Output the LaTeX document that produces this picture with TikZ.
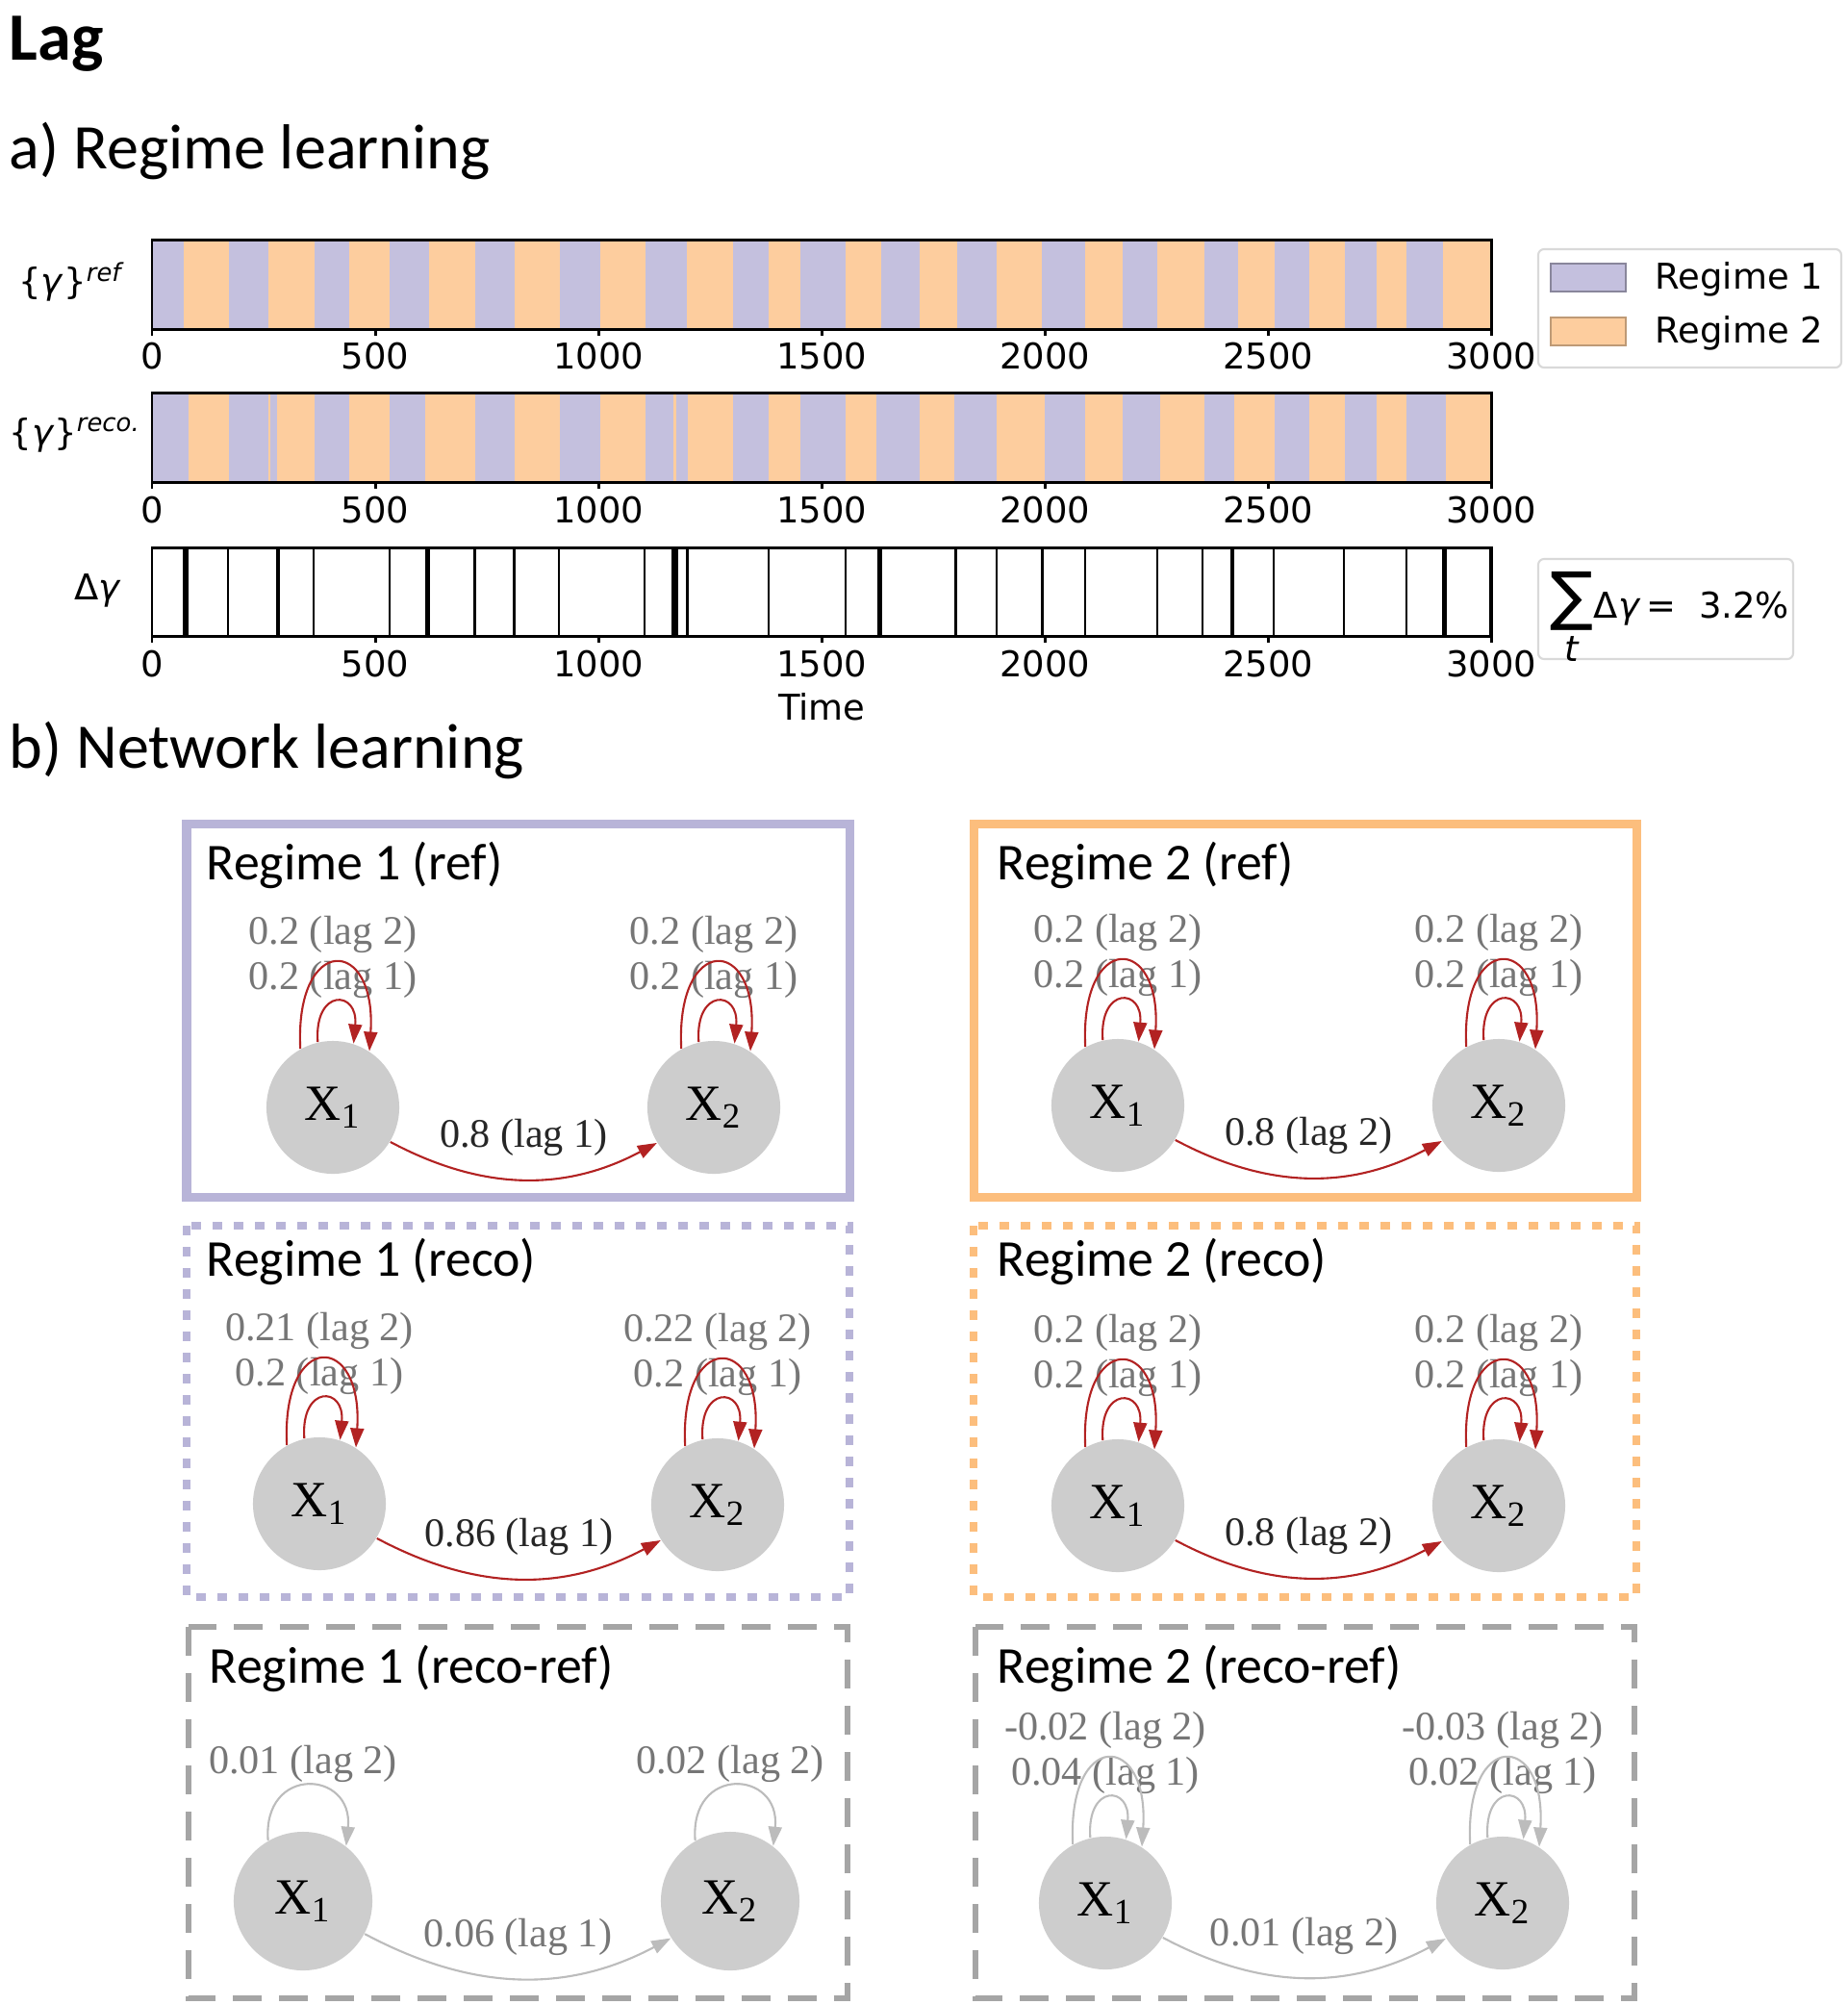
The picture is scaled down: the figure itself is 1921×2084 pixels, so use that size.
\documentclass[tikz,border=0pt]{standalone}
\usepackage{amsmath}
\usepackage{fontspec}
\setmainfont{Carlito}
\newfontfamily\plotfont{DejaVu Sans}
\newfontfamily\graphfont{Liberation Serif}
\usetikzlibrary{positioning,arrows.meta}
\definecolor{regone}{RGB}{196,192,222}
\definecolor{regtwo}{RGB}{253,205,158}
\definecolor{boxone}{RGB}{184,180,216}
\definecolor{boxtwo}{RGB}{252,190,125}
\definecolor{nodegray}{RGB}{205,205,205}
\definecolor{lblgray}{RGB}{118,118,118}
\definecolor{edgered}{RGB}{178,34,34}
\definecolor{edgegray}{RGB}{188,188,188}
\definecolor{dashgray}{RGB}{165,165,165}
\tikzset{
	heading/.style={anchor=base west,inner sep=0pt,font=\fontsize{18.8}{22}\selectfont},
	ptitle/.style={anchor=base west,inner sep=0pt,font=\fontsize{15.3}{17}\selectfont},
	plotlbl/.style={inner sep=0pt,font=\plotfont\fontsize{10.5}{12}\selectfont},
	frame/.style={draw=black,line width=0.8pt},
	var/.style={circle,fill=nodegray,minimum size=1.38cm,inner sep=0pt,font=\graphfont\fontsize{15}{15}\selectfont},
	wlbl/.style={inner sep=0pt,text=lblgray,font=\graphfont\fontsize{12}{12}\selectfont},
	elbl/.style={inner sep=0pt,text=black!85,font=\graphfont\fontsize{12}{12}\selectfont},
	redge/.style={draw=edgered,line width=0.6pt,-{Triangle[length=0.2cm,width=0.14cm]}},
	gedge/.style={draw=edgegray,line width=0.6pt,-{Triangle[length=0.2cm,width=0.14cm]}},
	solidone/.style={draw=boxone,line width=0.09cm},
	solidtwo/.style={draw=boxtwo,line width=0.09cm},
	dotone/.style={draw=boxone,line width=0.085cm,dash pattern=on 0.1cm off 0.12cm},
	dottwo/.style={draw=boxtwo,line width=0.085cm,dash pattern=on 0.1cm off 0.12cm},
	dashbox/.style={draw=dashgray,line width=0.06cm,dash pattern=on 0.3cm off 0.18cm},
	legbox/.style={draw=black!15,fill=white,line width=0.6pt,rounded corners=0.06cm}
}
\begin{document}
\begin{tikzpicture}[x=0.01cm,y=0.01cm]
\useasboundingbox (0,0) rectangle (1921,-2084);
\node[heading,font=\bfseries\fontsize{20}{22}\selectfont] (lag) at (9,-62) {Lag};
\node[heading] (parta) at (9,-175) {a) Regime learning};
\node[heading] (partb) at (9,-798) {b) Network learning};

\node[plotlbl] (gref) at (75,-293) {\{\textit{γ}\}\textsuperscript{\textit{ref}}};
\node[plotlbl] (greco) at (78,-452) {\{\textit{γ}\}\textsuperscript{\textit{reco.}}};
\node[plotlbl] (dgam) at (102,-614) {Δ\textit{γ}};

\begin{scope}[xshift=1.58cm,yshift=-2.49cm,x=0.0046433cm]
	\fill[regtwo] (0,0) rectangle (3000,-93);
	\foreach \a/\b in {0/71,173/261,364/441,533/621,724/813,914/1003,1106/1197,1302/1381,1451/1554,1633/1720,1804/1891,1993/2090,2174/2252,2356/2433,2514/2591,2672/2742,2810/2891}
		\fill[regone] (\a,0) rectangle (\b,-93);
	\draw[frame] (0,0) rectangle (3000,-93);
	\foreach \tv in {0,500,...,3000} {
		\draw[frame] (\tv,-93) -- (\tv,-100);
		\node[plotlbl] (tka\tv) at (\tv,-121) {\tv};
	}
\end{scope}

\begin{scope}[xshift=1.58cm,yshift=-4.08cm,x=0.0046433cm]
	\fill[regtwo] (0,0) rectangle (3000,-93);
	\foreach \a/\b in {0/82,173/260,264/280,364/441,533/612,724/813,914/1003,1106/1168,1175/1200,1302/1381,1451/1554,1622/1720,1796/1891,2000/2090,2174/2258,2356/2423,2514/2591,2672/2742,2810/2897}
		\fill[regone] (\a,0) rectangle (\b,-93);
	\draw[frame] (0,0) rectangle (3000,-93);
	\foreach \tv in {0,500,...,3000} {
		\draw[frame] (\tv,-93) -- (\tv,-100);
		\node[plotlbl] (tkb\tv) at (\tv,-122) {\tv};
	}
\end{scope}

\begin{scope}[xshift=1.58cm,yshift=-5.69cm,x=0.0046433cm]
	\foreach \tv/\w in {75/1.6pt,170/0.6pt,282/1.4pt,361/0.6pt,532/0.6pt,617/1.2pt,722/0.9pt,811/0.6pt,912/0.6pt,1103/0.6pt,1169/1.4pt,1175/1pt,1199/0.9pt,1380/0.6pt,1553/0.6pt,1629/1.4pt,1800/1pt,1891/0.6pt,1994/1.1pt,2090/0.8pt,2252/0.6pt,2353/0.6pt,2419/1.1pt,2513/0.6pt,2670/0.6pt,2810/0.6pt,2895/1.3pt,2996/0.6pt}
		\draw[line width=\w] (\tv,0) -- (\tv,-92);
	\draw[frame] (0,0) rectangle (3000,-92);
	\foreach \tv in {0,500,...,3000} {
		\draw[frame] (\tv,-92) -- (\tv,-99);
		\node[plotlbl] (tkc\tv) at (\tv,-121) {\tv};
	}
	\node[plotlbl] (time) at (1500,-165) {Time};
\end{scope}

\draw[legbox] (1599,-259) rectangle (1914,-382);
\draw[fill=regone,draw=regone!70!black,line width=0.5pt] (1612,-274) rectangle (1690,-303);
\draw[fill=regtwo,draw=regtwo!75!black,line width=0.5pt] (1612,-330) rectangle (1690,-359);
\node[plotlbl,anchor=west] (leg1) at (1720,-290) {Regime 1};
\node[plotlbl,anchor=west] (leg2) at (1720,-346) {Regime 2};

\draw[legbox] (1599,-581) rectangle (1864,-685);
\node[plotlbl,anchor=base west] (sumlbl) at (1611,-642) {$\mathop{\hbox{\fontsize{19}{19}\selectfont ∑}}\limits_{\hbox{\itshape t}}$Δ\textit{γ}\,=~~3.2\%};

\draw[solidone] (194,-856) rectangle (883,-1244);
\draw[solidtwo] (1012,-856) rectangle (1701,-1244);
\draw[dotone] (194,-1274) rectangle (883,-1660);
\draw[dottwo] (1012,-1274) rectangle (1701,-1660);
\draw[dashbox] (196,-1691) rectangle (881,-2077);
\draw[dashbox] (1014,-1691) rectangle (1699,-2077);

\node[ptitle] (t1ref) at (214,-914) {Regime 1 (ref)};
\node[ptitle] (t2ref) at (1036,-914) {Regime 2 (ref)};
\node[ptitle] (t1rec) at (214,-1326) {Regime 1 (reco)};
\node[ptitle] (t2rec) at (1036,-1326) {Regime 2 (reco)};
\node[ptitle] (t1dif) at (217,-1749) {Regime 1 (reco-ref)};
\node[ptitle] (t2dif) at (1036,-1749) {Regime 2 (reco-ref)};

\node[var] (r1ref1) at (346,-1151) {X\textsubscript{1}};
\node[var] (r1ref2) at (742,-1151) {X\textsubscript{2}};
\node[var] (r2ref1) at (1162,-1149) {X\textsubscript{1}};
\node[var] (r2ref2) at (1558,-1149) {X\textsubscript{2}};
\node[var] (r1rec1) at (332,-1563) {X\textsubscript{1}};
\node[var] (r1rec2) at (746,-1564) {X\textsubscript{2}};
\node[var] (r2rec1) at (1162,-1565) {X\textsubscript{1}};
\node[var] (r2rec2) at (1558,-1565) {X\textsubscript{2}};
\node[var,minimum size=1.44cm] (r1dif1) at (315,-1976) {X\textsubscript{1}};
\node[var,minimum size=1.44cm] (r1dif2) at (759,-1976) {X\textsubscript{2}};
\node[var] (r2dif1) at (1149,-1978) {X\textsubscript{1}};
\node[var] (r2dif2) at (1562,-1978) {X\textsubscript{2}};

\node[wlbl,above=0.9cm of r1ref1] (r1ref1b) {0.2 (lag 2)};
\node[wlbl,above=0.43cm of r1ref1] (r1ref1a) {0.2 (lag 1)};
\node[wlbl,above=0.9cm of r1ref2] (r1ref2b) {0.2 (lag 2)};
\node[wlbl,above=0.43cm of r1ref2] (r1ref2a) {0.2 (lag 1)};
\node[wlbl,above=0.9cm of r2ref1] (r2ref1b) {0.2 (lag 2)};
\node[wlbl,above=0.43cm of r2ref1] (r2ref1a) {0.2 (lag 1)};
\node[wlbl,above=0.9cm of r2ref2] (r2ref2b) {0.2 (lag 2)};
\node[wlbl,above=0.43cm of r2ref2] (r2ref2a) {0.2 (lag 1)};
\node[wlbl,above=0.9cm of r1rec1] (r1rec1b) {0.21 (lag 2)};
\node[wlbl,above=0.43cm of r1rec1] (r1rec1a) {0.2 (lag 1)};
\node[wlbl,above=0.9cm of r1rec2] (r1rec2b) {0.22 (lag 2)};
\node[wlbl,above=0.43cm of r1rec2] (r1rec2a) {0.2 (lag 1)};
\node[wlbl,above=0.9cm of r2rec1] (r2rec1b) {0.2 (lag 2)};
\node[wlbl,above=0.43cm of r2rec1] (r2rec1a) {0.2 (lag 1)};
\node[wlbl,above=0.9cm of r2rec2] (r2rec2b) {0.2 (lag 2)};
\node[wlbl,above=0.43cm of r2rec2] (r2rec2a) {0.2 (lag 1)};
\node[wlbl,above=0.5cm of r1dif1] (r1dif1b) {0.01 (lag 2)};
\node[wlbl,above=0.5cm of r1dif2] (r1dif2b) {0.02 (lag 2)};
\node[wlbl,above=0.9cm of r2dif1] (r2dif1b) {-0.02 (lag 2)};
\node[wlbl,above=0.43cm of r2dif1] (r2dif1a) {0.04 (lag 1)};
\node[wlbl,above=0.9cm of r2dif2] (r2dif2b) {-0.03 (lag 2)};
\node[wlbl,above=0.43cm of r2dif2] (r2dif2a) {0.02 (lag 1)};

\foreach \n in {r1ref1,r1ref2,r2ref1,r2ref2,r1rec1,r1rec2,r2rec1,r2rec2} {
	\draw[redge] (\n.119) .. controls +(-6,120) and +(8,120) .. (\n.57);
	\draw[redge] (\n.103) .. controls +(-4,56) and +(5,56) .. (\n.72);
}
\foreach \n in {r2dif1,r2dif2} {
	\draw[gedge] (\n.119) .. controls +(-6,120) and +(8,120) .. (\n.57);
	\draw[gedge] (\n.103) .. controls +(-4,56) and +(5,56) .. (\n.72);
}
\foreach \n in {r1dif1,r1dif2}
	\draw[gedge] (\n.120) .. controls +(-6,79) and +(8,79) .. (\n.52);

\draw[redge] (r1ref1.-31) to[out=-28,in=208] node[elbl,midway,yshift=0.43cm] (r1refe) {0.8 (lag 1)} (r1ref2.212);
\draw[redge] (r2ref1.-31) to[out=-28,in=208] node[elbl,midway,yshift=0.43cm] (r2refe) {0.8 (lag 2)} (r2ref2.212);
\draw[redge] (r1rec1.-31) to[out=-28,in=208] node[elbl,midway,yshift=0.43cm] (r1rece) {0.86 (lag 1)} (r1rec2.212);
\draw[redge] (r2rec1.-31) to[out=-28,in=208] node[elbl,midway,yshift=0.43cm] (r2rece) {0.8 (lag 2)} (r2rec2.212);
\draw[gedge] (r1dif1.-28) to[out=-28,in=208] node[wlbl,midway,yshift=0.43cm] (r1dife) {0.06 (lag 1)} (r1dif2.212);
\draw[gedge] (r2dif1.-31) to[out=-28,in=208] node[wlbl,midway,yshift=0.43cm] (r2dife) {0.01 (lag 2)} (r2dif2.212);
\end{tikzpicture}
\end{document}
